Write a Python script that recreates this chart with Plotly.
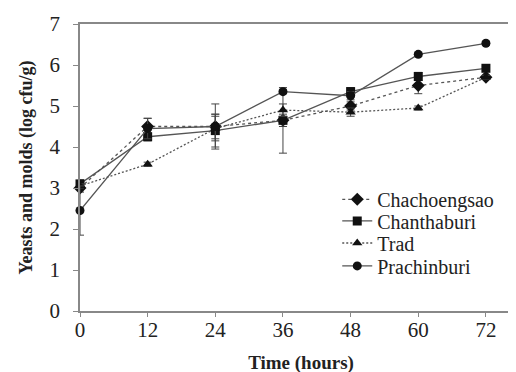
import plotly.graph_objects as go

time_h = [0, 12, 24, 36, 48, 60, 72]
x_ticks = [0, 12, 24, 36, 48, 60, 72]
y_ticks = [0, 1, 2, 3, 4, 5, 6, 7]

chachoengsao = [3.0, 4.5, 4.5, 4.65, 5.0, 5.5, 5.7]
chachoengsao_err = [0.1, 0.2, 0.55, 0.15, 0.1, 0.2, 0.05]
chanthaburi = [3.1, 4.25, 4.4, 4.65, 5.35, 5.72, 5.92]
chanthaburi_err = [0.1, 0.1, 0.4, 0.8, 0.1, 0.1, 0.05]
trad = [3.05, 3.58, 4.45, 4.9, 4.85, 4.95, 5.7]
trad_err = [0.05, 0.05, 0.3, 0.15, 0.1, 0.05, 0.05]
prachinburi = [2.45, 4.45, 4.5, 5.35, 5.25, 6.26, 6.53]
prachinburi_err = [0.6, 0.25, 0.3, 0.05, 0.1, 0.05, 0.05]

series = [
    ("Chachoengsao", chachoengsao, chachoengsao_err, "dot", "diamond", 10),
    ("Chanthaburi", chanthaburi, chanthaburi_err, "solid", "square", 9),
    ("Trad", trad, trad_err, "2px,2px", "triangle-up", 9),
    ("Prachinburi", prachinburi, prachinburi_err, "solid", "circle", 9),
]

font_family = "'Times New Roman', 'Liberation Serif', serif"
legend_ids = ["legend", "legend2", "legend3", "legend4"]
legend_rows_y = [0.389, 0.314, 0.237, 0.157]

fig = go.Figure()
for (name, ys, err, dash, sym, size), lid in zip(series, legend_ids):
    fig.add_trace(go.Scatter(
        x=time_h, y=ys, name=name, mode="lines+markers",
        line=dict(color="#555555", width=1.3, dash=dash),
        marker=dict(symbol=sym, size=size, color="#111111"),
        error_y=dict(type="data", array=err, visible=True,
                     color="#444444", thickness=1, width=4),
        cliponaxis=False, legend=lid,
    ))

legend_common = dict(x=0.582, xanchor="left", yanchor="middle",
                     bgcolor="rgba(0,0,0,0)",
                     font=dict(size=20, family=font_family, color="#222222"))
layout_legends = {lid: dict(legend_common, y=ly) for lid, ly in zip(legend_ids, legend_rows_y)}

fig.update_layout(
    width=516, height=372,
    margin=dict(l=72, r=2, t=16, b=69),
    paper_bgcolor="white", plot_bgcolor="white",
    font=dict(family=font_family, size=20, color="#222222"),
    showlegend=True,
    **layout_legends,
    xaxis=dict(range=[0, 78.4], tickvals=x_ticks, ticktext=[str(v) for v in x_ticks],
               showline=True, linecolor="#888888", linewidth=1.5, mirror=True,
               ticks="outside", ticklen=4, tickcolor="#888888",
               ticklabelstandoff=-5,
               showgrid=False, zeroline=False,
               tickfont=dict(size=21, family=font_family),
               title=dict(text="<b>Time (hours)</b>", font=dict(size=19, family=font_family), standoff=15)),
    yaxis=dict(range=[0, 7], tickvals=y_ticks,
               showline=True, linecolor="#888888", linewidth=1.5,
               ticks="outside", ticklen=5, tickcolor="#888888",
               ticklabelstandoff=9,
               showgrid=False, zeroline=False,
               tickfont=dict(size=21, family=font_family),
               title=dict(text="<b>Yeasts and molds (log cfu/g)</b>", font=dict(size=18, family=font_family), standoff=12)),
)

fig.write_html("out.html")
